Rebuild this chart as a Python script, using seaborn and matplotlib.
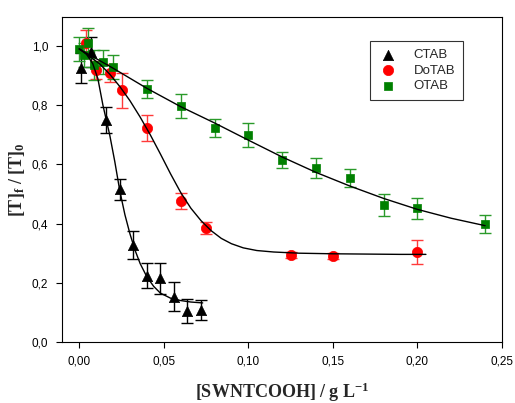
import matplotlib
matplotlib.use("Agg")
import matplotlib.pyplot as plt
from matplotlib.ticker import FuncFormatter, MultipleLocator
import seaborn as sns
import pandas as pd

# ---- data ----
ctab_x = [0.001, 0.007, 0.016, 0.024, 0.032, 0.040, 0.048, 0.056, 0.064, 0.072]
ctab_y = [0.925, 0.98, 0.75, 0.516, 0.328, 0.224, 0.215, 0.153, 0.105, 0.108]
ctab_err = [0.05, 0.05, 0.045, 0.035, 0.048, 0.042, 0.052, 0.048, 0.04, 0.035]

dotab_x = [0.004, 0.010, 0.018, 0.025, 0.040, 0.060, 0.075, 0.125, 0.150, 0.200]
dotab_y = [1.01, 0.92, 0.91, 0.85, 0.723, 0.476, 0.385, 0.293, 0.292, 0.305]
dotab_err = [0.045, 0.03, 0.03, 0.06, 0.045, 0.028, 0.02, 0.01, 0.01, 0.04]

otab_x = [0.000, 0.003, 0.005, 0.009, 0.014, 0.020, 0.040, 0.060, 0.080,
          0.100, 0.120, 0.140, 0.160, 0.180, 0.200, 0.240]
otab_y = [0.99, 0.97, 1.01, 0.935, 0.945, 0.93, 0.855, 0.797, 0.722,
          0.699, 0.615, 0.587, 0.553, 0.463, 0.452, 0.398]
otab_err = [0.04, 0.04, 0.05, 0.05, 0.04, 0.04, 0.03, 0.04, 0.03,
            0.04, 0.027, 0.034, 0.03, 0.036, 0.035, 0.031]

# fitted curves, points
ctab_fit_x = [0.000, 0.004, 0.008, 0.011, 0.014, 0.016, 0.018, 0.021, 0.024,
              0.027, 0.030, 0.033, 0.036, 0.040, 0.044, 0.048, 0.054, 0.060,
              0.066, 0.073]
ctab_fit_y = [0.99, 0.975, 0.94, 0.89, 0.80, 0.75, 0.70, 0.61, 0.51,
              0.43, 0.365, 0.31, 0.265, 0.22, 0.188, 0.165, 0.148, 0.140,
              0.135, 0.132]

dotab_fit_x = [0.000, 0.006, 0.012, 0.018, 0.024, 0.030, 0.036, 0.042, 0.048,
               0.054, 0.060, 0.066, 0.072, 0.078, 0.084, 0.090, 0.097, 0.105,
               0.115, 0.130, 0.150, 0.170, 0.190, 0.205]
dotab_fit_y = [0.99, 0.965, 0.94, 0.905, 0.863, 0.815, 0.76, 0.70, 0.635,
               0.568, 0.505, 0.452, 0.41, 0.376, 0.350, 0.332, 0.318, 0.309,
               0.304, 0.300, 0.298, 0.297, 0.296, 0.296]

otab_fit_x = [0.000, 0.020, 0.040, 0.060, 0.080, 0.100, 0.120, 0.140, 0.160,
              0.180, 0.200, 0.220, 0.240]
otab_fit_y = [0.99, 0.925, 0.857, 0.795, 0.74, 0.682, 0.625, 0.573, 0.527,
              0.485, 0.448, 0.418, 0.393]

names = ["CTAB", "DoTAB", "OTAB"]
colors = {"CTAB": "black", "DoTAB": "#ff0000", "OTAB": "#008000"}
err_colors = {"CTAB": "black", "DoTAB": "#ff3a3a", "OTAB": "#2a9a2a"}
markers = {"CTAB": "^", "DoTAB": "o", "OTAB": "s"}
sizes = {"CTAB": 55, "DoTAB": 55, "OTAB": 38}

pts = pd.concat([
    pd.DataFrame({"x": ctab_x, "y": ctab_y, "err": ctab_err, "s": "CTAB"}),
    pd.DataFrame({"x": dotab_x, "y": dotab_y, "err": dotab_err, "s": "DoTAB"}),
    pd.DataFrame({"x": otab_x, "y": otab_y, "err": otab_err, "s": "OTAB"}),
], ignore_index=True)
fits = pd.concat([
    pd.DataFrame({"x": ctab_fit_x, "y": ctab_fit_y, "s": "CTAB"}),
    pd.DataFrame({"x": dotab_fit_x, "y": dotab_fit_y, "s": "DoTAB"}),
    pd.DataFrame({"x": otab_fit_x, "y": otab_fit_y, "s": "OTAB"}),
], ignore_index=True)

sns.set_style("ticks")
plt.rcParams["font.family"] = ["Liberation Sans", "DejaVu Sans"]
plt.rcParams["mathtext.fontset"] = "custom"
plt.rcParams["mathtext.rm"] = "Liberation Serif"
plt.rcParams["mathtext.bf"] = "Liberation Serif:bold"
plt.rcParams["mathtext.it"] = "Liberation Serif:italic"

fig = plt.figure(figsize=(5.15, 4.03), dpi=100)
ax = fig.add_axes([0.1204, 0.1514, 0.8544, 0.8064])

# error bars (behind markers)
for n in names:
    d = pts[pts.s == n]
    ax.errorbar(d.x, d.y, yerr=d.err, fmt="none", ecolor=err_colors[n],
                elinewidth=1.0, capsize=4, capthick=1.0, zorder=2)

# markers
for n in names:
    d = pts[pts.s == n]
    sns.scatterplot(data=d, x="x", y="y", ax=ax, marker=markers[n],
                    color=colors[n], s=sizes[n], edgecolor=colors[n],
                    linewidth=0.5, label=n, zorder=3)

# fitted curves (on top)
for n in names:
    d = fits[fits.s == n]
    sns.lineplot(data=d, x="x", y="y", ax=ax, color="black", linewidth=1.0,
                 sort=False, estimator=None, zorder=4, legend=False)

ax.set_xlim(-0.0102, 0.25)
ax.set_ylim(0, 1.098)
ax.xaxis.set_major_locator(MultipleLocator(0.05))
ax.yaxis.set_major_locator(MultipleLocator(0.2))
ax.xaxis.set_major_formatter(FuncFormatter(lambda v, p: f"{v:.2f}".replace(".", ",")))
ax.yaxis.set_major_formatter(FuncFormatter(lambda v, p: f"{v:.1f}".replace(".", ",")))
ax.tick_params(axis="both", direction="out", length=4, width=0.8,
               labelsize=8.5, colors="black", pad=6)
ax.tick_params(top=False, right=False)
for sp in ax.spines.values():
    sp.set_visible(True)
    sp.set_color("black")
    sp.set_linewidth(0.8)

ax.set_xlabel(r"$\mathbf{[SWNTCOOH]\ /\ g\ L^{-1}}$", fontsize=13, labelpad=9)
ax.set_ylabel(r"$\mathbf{[T]_f\ /\ [T]_0}$", fontsize=13, labelpad=3)

leg = ax.legend(loc="upper left", bbox_to_anchor=(0.70, 0.926), frameon=True,
                fancybox=False, edgecolor="black", fontsize=9.5,
                handletextpad=1.2, borderpad=0.6, labelspacing=0.25,
                handlelength=1.5, borderaxespad=0)
leg.get_frame().set_linewidth(0.8)

fig.savefig("out.png", dpi=100)
